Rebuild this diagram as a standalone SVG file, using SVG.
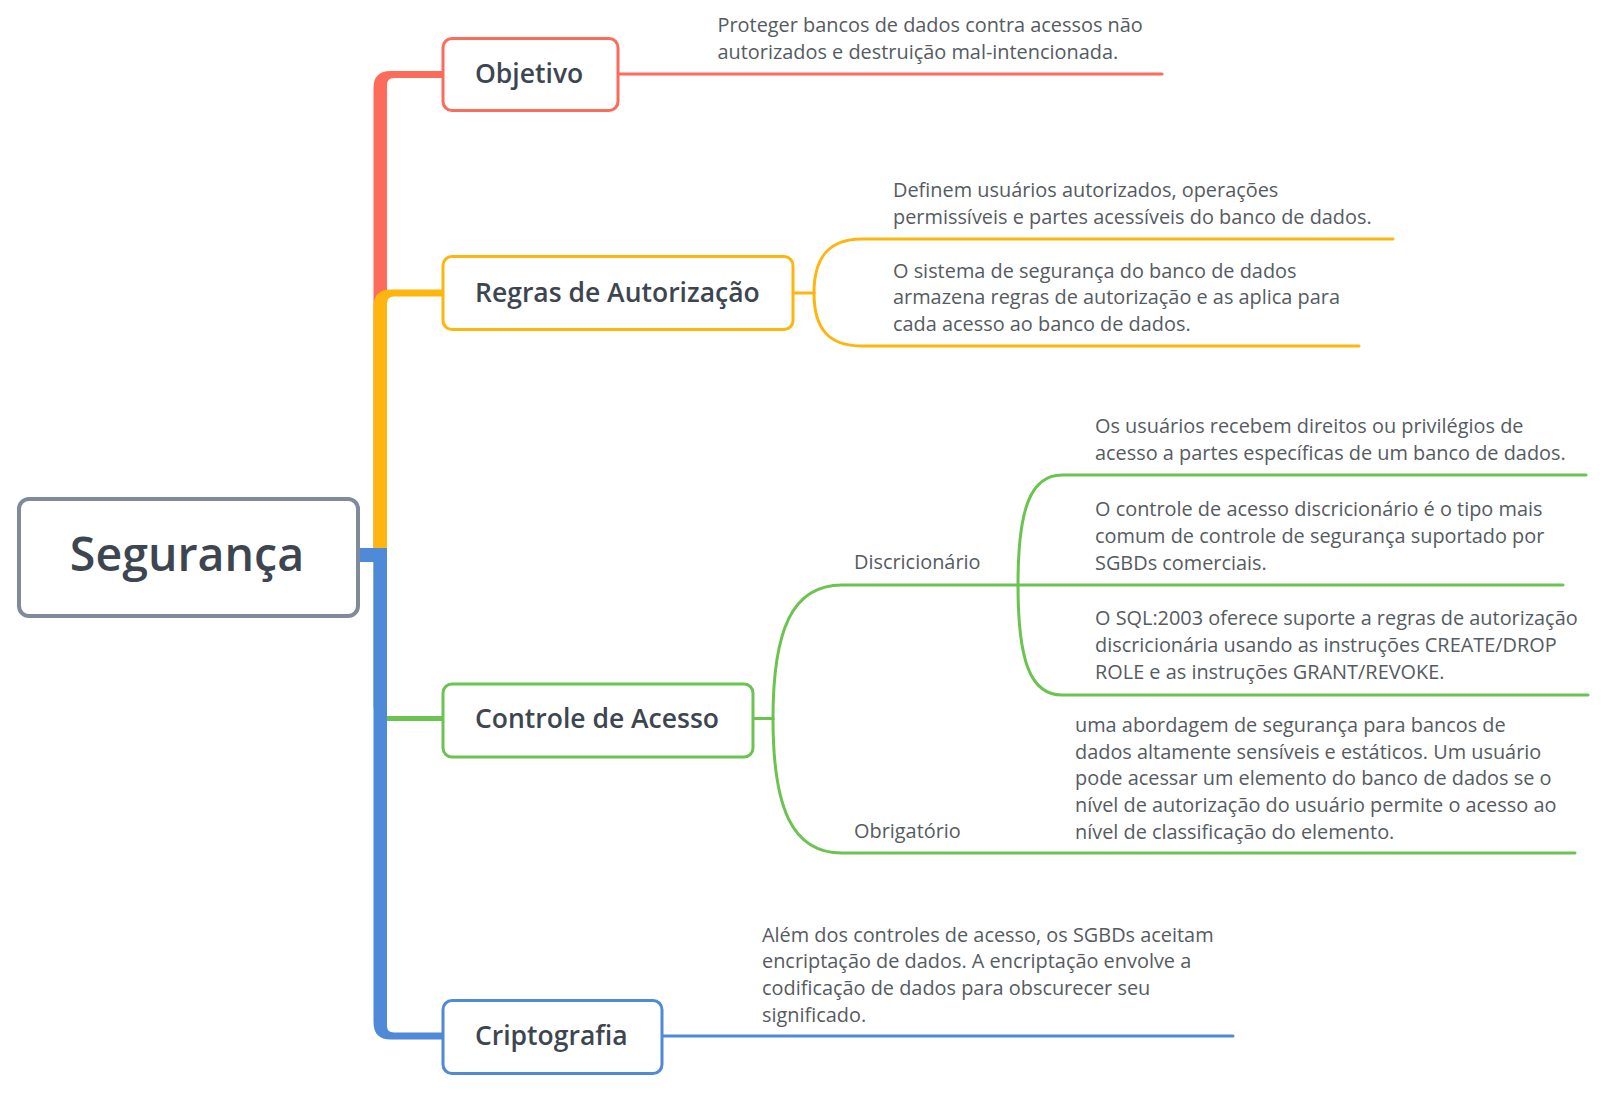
<svg xmlns="http://www.w3.org/2000/svg" width="1612" height="1096" viewBox="0 0 1612 1096">
<style>
.node{fill:#fff;stroke-width:3}
.nt{font-family:"Open Sans","Liberation Sans",sans-serif;font-weight:600;font-size:26.5px;fill:#3d4650}
.dt{font-family:"Open Sans","Liberation Sans",sans-serif;font-size:19.9px;fill:#555b61}
.ln{fill:none;stroke-width:3;stroke-linecap:round}
.red{stroke:#fd6b5a}.yel{stroke:#ffb50f}.grn{stroke:#6bc350}.blu{stroke:#4f8ad8}
</style>
<rect width="1612" height="1096" fill="#fff"/>
<g id="connectors">
<path d="M373.5 548 L373.5 88 Q373.5 71 390.5 71 L445 71 L445 78 L394 78 Q387 78 387 85 L387 548 Z" fill="#fd6b5a"/>
<path d="M373.5 548 L373.5 307 Q373.5 289.5 390.5 289.5 L445 289.5 L445 296.5 L394 296.5 Q387 296.5 387 303.5 L387 548 Z" fill="#ffb50f"/>
<path d="M373.5 548 L373.5 706 Q373.5 716 385 716 L445 716 L445 721 L387 721 Z" fill="#6bc350"/>
<path d="M356 548 L387 548 L387 1026 Q387 1032.5 394 1032.5 L445 1032.5 L445 1039.5 L390.5 1039.5 Q373.5 1039.5 373.5 1022 L373.5 562 L356 562 Z" fill="#4f8ad8"/>
<path class="ln red" d="M618 74 L1162 74"/>
<path class="ln yel" d="M793 293 L814 293"/>
<path class="ln yel" d="M814 293 C814 258 828 239 862 239 L1393 239"/>
<path class="ln yel" d="M814 293 C814 328 828 346 862 346 L1359 346"/>
<path class="ln grn" d="M753 718.5 L773 718.5"/>
<path class="ln grn" d="M773 718.5 C773 630 792 585 842 585 L1018 585"/>
<path class="ln grn" d="M773 718.5 C773 808 792 853 842 853 L1575 853"/>
<path class="ln grn" d="M1018 585 C1018 510 1030 475 1062 475 L1586 475"/>
<path class="ln grn" d="M1018 585 L1563 585"/>
<path class="ln grn" d="M1018 585 C1018 660 1030 695 1062 695 L1588 695"/>
<path class="ln blu" d="M662 1036 L1233 1036"/>
</g>
<g id="root">
<rect x="19" y="499" width="339" height="117" rx="10" fill="#fff" stroke="#7f8a9b" stroke-width="4"/>
<text x="187" y="571" text-anchor="middle" font-family="Open Sans, Liberation Sans, sans-serif" font-weight="600" font-size="46.5" fill="#3d4650">Segurança</text>
</g>
<g id="objetivo">
<rect class="node red" x="443" y="38.5" width="175" height="72" rx="9"/>
<text class="nt" x="475" y="83">Objetivo</text>
</g>
<g id="objetivo-desc">
<text class="dt" x="717.5" y="32">Proteger bancos de dados contra acessos não</text>
<text class="dt" x="717.5" y="58.5">autorizados e destruição mal-intencionada.</text>
</g>
<g id="regras">
<rect class="node yel" x="443" y="256.5" width="350" height="73" rx="9"/>
<text class="nt" x="475" y="302">Regras de Autorização</text>
</g>
<g id="regras-desc1">
<text class="dt" x="893" y="197">Definem usuários autorizados, operações</text>
<text class="dt" x="893" y="224">permissíveis e partes acessíveis do banco de dados.</text>
</g>
<g id="regras-desc2">
<text class="dt" x="893" y="277.5">O sistema de segurança do banco de dados</text>
<text class="dt" x="893" y="304">armazena regras de autorização e as aplica para</text>
<text class="dt" x="893" y="330.5">cada acesso ao banco de dados.</text>
</g>
<g id="controle">
<rect class="node grn" x="443" y="684" width="310" height="73" rx="9"/>
<text class="nt" x="475" y="728">Controle de Acesso</text>
</g>
<g id="discricionario">
<text class="dt" x="854" y="569">Discricionário</text>
</g>
<g id="disc-desc1">
<text class="dt" x="1095" y="433">Os usuários recebem direitos ou privilégios de</text>
<text class="dt" x="1095" y="459.5">acesso a partes específicas de um banco de dados.</text>
</g>
<g id="disc-desc2">
<text class="dt" x="1095" y="516">O controle de acesso discricionário é o tipo mais</text>
<text class="dt" x="1095" y="543">comum de controle de segurança suportado por</text>
<text class="dt" x="1095" y="569.5">SGBDs comerciais.</text>
</g>
<g id="disc-desc3">
<text class="dt" x="1095" y="625">O SQL:2003 oferece suporte a regras de autorização</text>
<text class="dt" x="1095" y="652">discricionária usando as instruções CREATE/DROP</text>
<text class="dt" x="1095" y="678.5">ROLE e as instruções GRANT/REVOKE.</text>
</g>
<g id="obrigatorio">
<text class="dt" x="854" y="838">Obrigatório</text>
</g>
<g id="obrig-desc">
<text class="dt" x="1075" y="732">uma abordagem de segurança para bancos de</text>
<text class="dt" x="1075" y="758.7">dados altamente sensíveis e estáticos. Um usuário</text>
<text class="dt" x="1075" y="785.4">pode acessar um elemento do banco de dados se o</text>
<text class="dt" x="1075" y="812">nível de autorização do usuário permite o acesso ao</text>
<text class="dt" x="1075" y="839">nível de classificação do elemento.</text>
</g>
<g id="criptografia">
<rect class="node blu" x="443" y="1000.5" width="219" height="73" rx="9"/>
<text class="nt" x="475" y="1045">Criptografia</text>
</g>
<g id="cripto-desc">
<text class="dt" x="762" y="941.5">Além dos controles de acesso, os SGBDs aceitam</text>
<text class="dt" x="762" y="968">encriptação de dados. A encriptação envolve a</text>
<text class="dt" x="762" y="995">codificação de dados para obscurecer seu</text>
<text class="dt" x="762" y="1021.5">significado.</text>
</g>
</svg>
